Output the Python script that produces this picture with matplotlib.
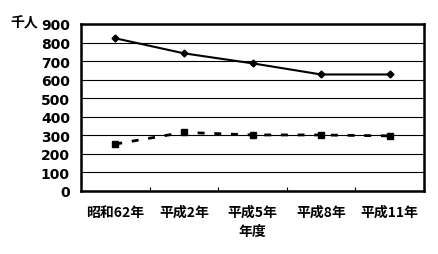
import matplotlib
matplotlib.use('Agg')
import matplotlib.pyplot as plt

plt.rcParams['font.family'] = ['Noto Sans CJK JP', 'DejaVu Sans']

years = ['昭和62年', '平成2年', '平成5年', '平成8年', '平成11年']
series_a = [823, 742, 688, 628, 628]
series_b = [253, 316, 302, 302, 297]
yticks = [0, 100, 200, 300, 400, 500, 600, 700, 800, 900]

fig = plt.figure(figsize=(4.38, 2.55), dpi=100)
ax = fig.add_axes([81 / 438, 63 / 255, 343 / 438, 167 / 255])

x = list(range(len(years)))
ax.plot(x, series_a, color='black', lw=1.5, marker='D', ms=3.5, zorder=3)
ax.plot(x, series_b, color='black', lw=2, ls=(0, (2.5, 3.5)), marker='s', ms=5, zorder=3)

ax.set_xlim(-0.5, len(years) - 0.5)
ax.set_ylim(0, 900)
ax.set_yticks(yticks)
ax.set_yticklabels([str(v) for v in yticks], fontsize=10, fontweight='bold',
                   family=['DejaVu Sans'])
ax.yaxis.grid(True, color='black', lw=0.8)
ax.set_axisbelow(True)
ax.tick_params(axis='y', length=0, pad=8)

ax.set_xticks(x)
ax.set_xticklabels(years, fontsize=10, fontweight='bold')
ax.set_xticks([i + 0.5 for i in range(len(years) - 1)], minor=True)
ax.tick_params(axis='x', which='major', length=0, pad=10)
ax.tick_params(axis='x', which='minor', direction='in', length=3, width=0.8)
for s in ax.spines.values():
    s.set_linewidth(1.8)

ax.set_xlabel('年度', fontsize=10, fontweight='bold', labelpad=4)
fig.text(10 / 438, 1 - 23 / 255, '千人', fontsize=10, fontweight='bold', va='center')

fig.savefig('out.png', dpi=100)
